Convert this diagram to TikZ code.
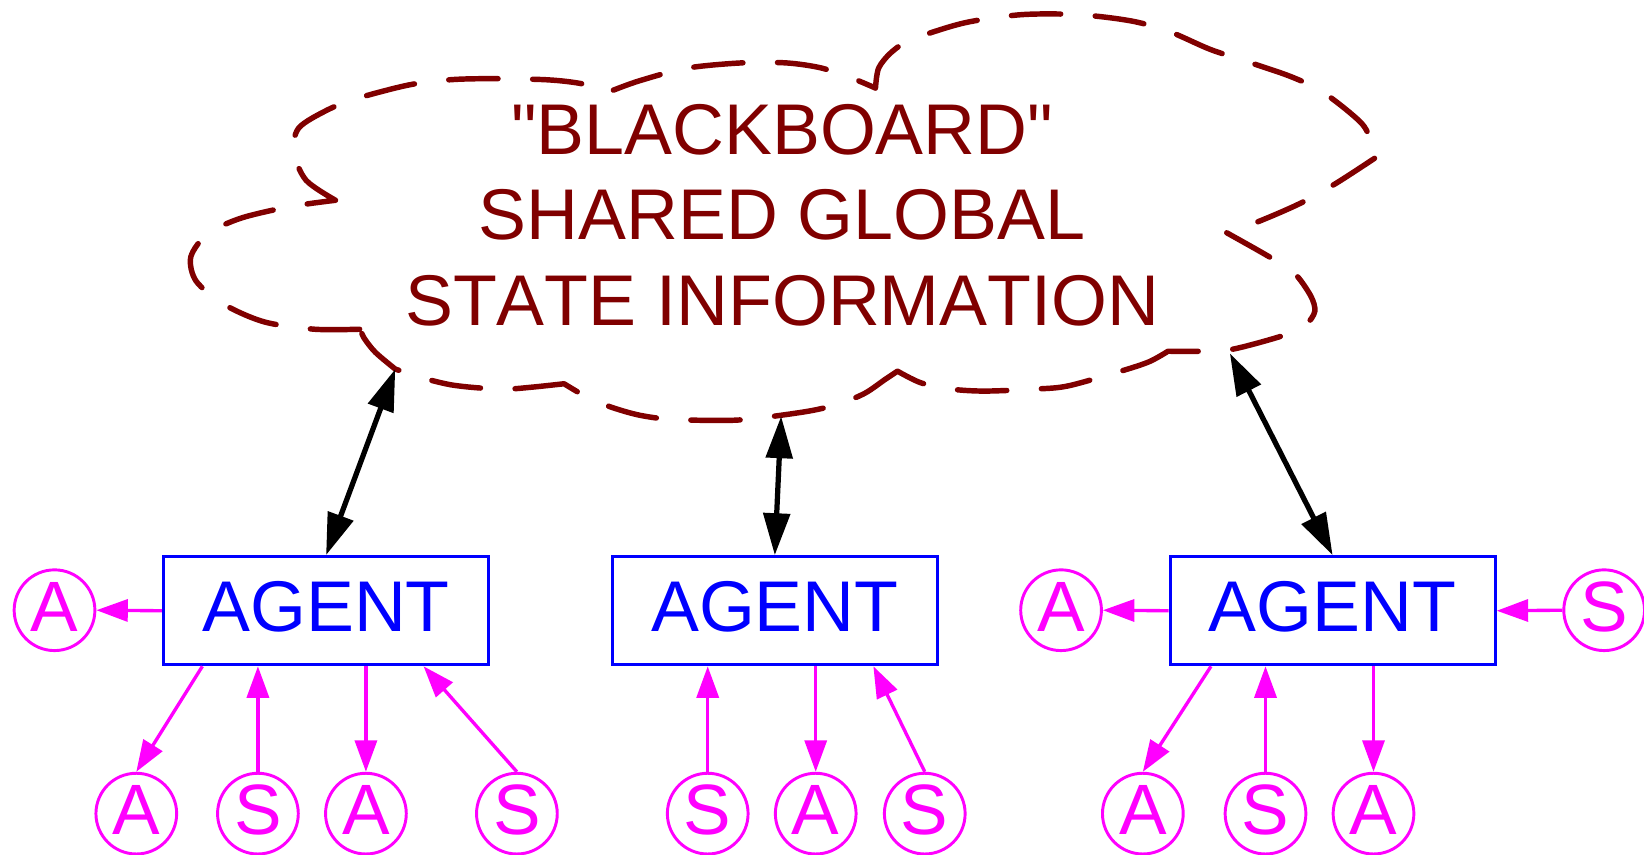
\documentclass[tikz,border=0pt]{standalone}
\usepackage{fontspec}
\setmainfont{Liberation Sans}[Kerning=Off]
\usetikzlibrary{arrows.meta,calc}
\definecolor{bbred}{RGB}{128,0,0}
\definecolor{agblue}{RGB}{0,0,255}
\definecolor{sensmag}{RGB}{255,0,255}
\begin{document}
\begin{tikzpicture}[x=1pt,y=-1pt,
  bigtext/.style={font=\fontsize{68.5}{82}\selectfont},
  bbtext/.style={bigtext,text=bbred,inner sep=0pt,anchor=base},
  agentbox/.style={draw=agblue,line width=3pt,minimum width=310pt,minimum height=103pt,inner sep=0pt,text=agblue,bigtext,text depth=8pt},
  sensnode/.style={circle,draw=sensmag,line width=2.8pt,minimum size=77pt,inner sep=0pt,text=sensmag,font=\fontsize{68}{80}\selectfont,text depth=7pt},
  sarrow/.style={draw=sensmag,line width=3.2pt,-{Triangle[length=30pt,width=21pt]}},
  barrow/.style={draw=black,line width=5pt,{Triangle[length=40pt,width=25pt]}-{Triangle[length=40pt,width=25pt]}},
  cloudline/.style={draw=bbred,line width=5.2pt,line cap=round,dash pattern=on 47pt off 33pt}
]
\useasboundingbox (0,0) rectangle (1568,815);

% cloud outline
\draw[cloudline]
 plot[smooth] coordinates {(343,314) (300,314) (252,307) (213,290) (187,268) (182,245) (198,223) (230,208) (277,197) (320,191)}
 plot[smooth] coordinates {(320,191) (292,172) (280,145) (285,122) (312,105) (340,94) (390,81) (430,76) (470,75) (520,76) (550,79) (585,86)}
 plot[smooth] coordinates {(585,86) (610,77) (655,65) (707,60) (750,60) (784,65) (816,76) (835,84)}
 plot[smooth] coordinates {(835,84) (838,65) (850,50) (869,38) (919,22) (974,14) (1029,14) (1079,20) (1115,30) (1154,47) (1190,59) (1231,73) (1262,88) (1299,118) (1309,140) (1311,151)}
 plot[smooth] coordinates {(1311,151) (1274,175) (1240,194) (1201,211) (1170,222)}
 plot[smooth] coordinates {(1170,222) (1209,244) (1234,260) (1250,282) (1254,297) (1245,310) (1224,320) (1176,333) (1146,335) (1114,335)}
 plot[smooth] coordinates {(1114,335) (1096,345) (1069,354) (1019,368) (989,371) (939,373) (906,371) (878,365) (856,354)}
 plot[smooth] coordinates {(856,354) (844,362) (825,375) (801,385) (772,392) (722,399) (692,401) (640,400) (610,396) (585,389) (562,380) (538,366)}
 plot[smooth] coordinates {(538,366) (510,369) (485,371) (457,370) (430,367) (405,361) (377,352)}
 plot[smooth] coordinates {(377,352) (358,336) (347,322) (343,312)};

\node[bbtext] (bb1) at (746,147) {\textquotedbl BLACKBOARD\textquotedbl};
\node[bbtext] (bb2) at (746,228) {SHARED GLOBAL};
\node[bbtext] (bb3) at (746,310) {STATE INFORMATION};

\coordinate (cl1) at (377,352);
\coordinate (cl2) at (745,397);
\coordinate (cl3) at (1173,337);

% agents
\node[agentbox] (ag1) at (311,582.5) {AGENT};
\node[agentbox] (ag2) at (739,582.5) {AGENT};
\node[agentbox] (ag3) at (1271,582.5) {AGENT};

% sensors / actuators
\node[sensnode] (la) at (52,582) {A};
\node[sensnode] (ra) at (1012,582) {A};
\node[sensnode] (rs) at (1530,582) {S};

\node[sensnode] (b1) at (130,776) {A};
\node[sensnode] (b2) at (246,776) {S};
\node[sensnode] (b3) at (349,776) {A};
\node[sensnode] (b4) at (493,776) {S};
\node[sensnode] (b5) at (675,776) {S};
\node[sensnode] (b6) at (778,776) {A};
\node[sensnode] (b7) at (882,776) {S};
\node[sensnode] (b8) at (1090,776) {A};
\node[sensnode] (b9) at (1207,776) {S};
\node[sensnode] (b10) at (1310,776) {A};

% blackboard links
\draw[barrow] (ag1.north) -- (cl1);
\draw[barrow] (ag2.north) -- (cl2);
\draw[barrow] (ag3.north) -- (cl3);

% left agent
\draw[sarrow] (ag1.west) -- (la.east);
\draw[sarrow] ([xshift=-118pt]ag1.south) -- (b1.north);
\draw[sarrow] (b2.north) -- ([xshift=-65pt]ag1.south);
\draw[sarrow] ([xshift=38pt]ag1.south) -- (b3.north);
\draw[sarrow] (b4.north) -- ([xshift=93pt]ag1.south);

% middle agent
\draw[sarrow] (b5.north) -- ([xshift=-64pt]ag2.south);
\draw[sarrow] ([xshift=39pt]ag2.south) -- (b6.north);
\draw[sarrow] (b7.north) -- ([xshift=94pt]ag2.south);

% right agent
\draw[sarrow] (ag3.west) -- (ra.east);
\draw[sarrow] (rs.west) -- (ag3.east);
\draw[sarrow] ([xshift=-116pt]ag3.south) -- (b8.north);
\draw[sarrow] (b9.north) -- ([xshift=-64pt]ag3.south);
\draw[sarrow] ([xshift=39pt]ag3.south) -- (b10.north);
\end{tikzpicture}
\end{document}
